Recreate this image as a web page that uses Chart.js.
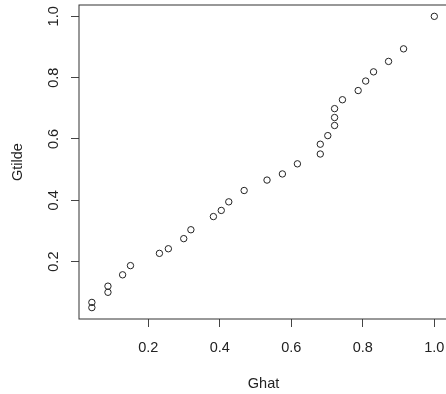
<!DOCTYPE html>
<html><head><meta charset="utf-8">
<script src="https://cdn.jsdelivr.net/npm/chart.js@4/dist/chart.umd.min.js"></script>
<style>html,body{margin:0;padding:0;overflow:hidden;background:#fff}</style>
</head><body>
<canvas id="c" width="448" height="394"></canvas>
<script>
const ghat = [0.042,0.042,0.087,0.087,0.128,0.150,0.231,0.256,0.299,0.319,0.382,0.404,0.425,0.468,0.532,0.575,0.617,0.681,0.681,0.702,0.721,0.721,0.721,0.743,0.787,0.808,0.830,0.872,0.914,1.000];
const gtilde = [0.050,0.067,0.100,0.120,0.157,0.187,0.227,0.242,0.275,0.304,0.347,0.367,0.395,0.432,0.466,0.486,0.519,0.551,0.583,0.611,0.644,0.670,0.699,0.728,0.758,0.789,0.819,0.853,0.894,1.000];
const xTicks = [0.2,0.4,0.6,0.8,1.0];
const yTicks = [0.2,0.4,0.6,0.8,1.0];
const xLabel = 'Ghat';
const yLabel = 'Gtilde';

const FONT = 'Liberation Sans, Arial, Helvetica, sans-serif';
const frame = {
  id:'frame',
  afterDraw(chart){
    const {ctx, chartArea:a} = chart;
    ctx.save();
    ctx.strokeStyle = '#333';
    ctx.lineWidth = 1;
    ctx.strokeRect(a.left, a.top, a.right - a.left, a.bottom - a.top);
    ctx.restore();
  }
};
new Chart(document.getElementById('c'), {
  type:'scatter',
  data:{datasets:[{
    data: ghat.map((x,i)=>({x, y:gtilde[i]})),
    pointStyle:'circle', pointRadius:3.2, pointHoverRadius:3.2,
    borderColor:'#222', borderWidth:1, backgroundColor:'rgba(0,0,0,0)',
    clip:false
  }]},
  options:{
    responsive:false, animation:false, devicePixelRatio:1,
    layout:{autoPadding:false, padding:{top:5,left:0,right:0,bottom:0}},
    plugins:{legend:{display:false}, tooltip:{enabled:false}},
    scales:{
      x:{
        type:'linear', min:0.006, max:1.0383,
        afterBuildTicks:s=>{s.ticks = xTicks.map(v=>({value:v}));},
        afterFit:s=>{s.height = 75; s.paddingLeft = 0; s.paddingRight = 0;},
        border:{display:false},
        grid:{drawOnChartArea:false, drawTicks:true, tickLength:8, color:'#444', tickColor:'#444'},
        ticks:{autoSkip:false, maxRotation:0, font:{family:FONT, size:14.5}, color:'#222', padding:12, callback:v=>Number(v).toFixed(1)},
        title:{display:true, text:xLabel, font:{family:FONT, size:14.5}, color:'#222', padding:{top:0,bottom:1.5}}
      },
      y:{
        type:'linear', min:0.0129, max:1.037,
        afterBuildTicks:s=>{s.ticks = yTicks.map(v=>({value:v}));},
        afterFit:s=>{s.width = 79; s.paddingTop = 0; s.paddingBottom = 0;},
        border:{display:false},
        grid:{drawOnChartArea:false, drawTicks:true, tickLength:8, color:'#444', tickColor:'#444'},
        ticks:{autoSkip:false, minRotation:90, maxRotation:90, crossAlign:'center', font:{family:FONT, size:14.5}, color:'#222', padding:7, callback:v=>Number(v).toFixed(1)},
        title:{display:true, text:yLabel, font:{family:FONT, size:14.5}, color:'#222', padding:{top:9.3,bottom:0}}
      }
    }
  },
  plugins:[frame]
});
</script>
</body></html>
